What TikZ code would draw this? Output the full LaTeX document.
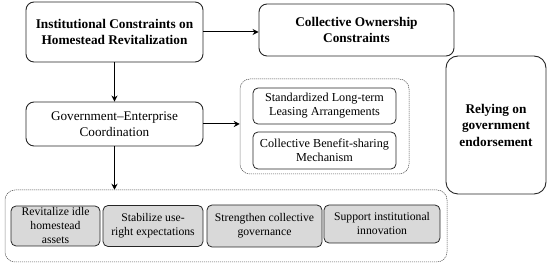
\documentclass[tikz,border=0pt]{standalone}
\usepackage{fontspec}
\setmainfont{Liberation Serif}
\usetikzlibrary{arrows.meta}
\begin{document}
\begin{tikzpicture}[x=1pt,y=1pt,
  solidbox/.style={draw=black!85, line width=0.9pt, rounded corners=8pt, align=center, inner sep=0pt},
  smallbox/.style={draw=black!85, line width=0.8pt, rounded corners=5pt, align=center, inner sep=0pt, font=\fontsize{12.2}{14}\selectfont},
  graybox/.style={smallbox, fill=black!15, font=\fontsize{11.7}{14}\selectfont},
  groupbox/.style={draw=black!70, line width=0.5pt, dash pattern=on 1.2pt off 0.8pt, rounded corners=10pt, inner sep=0pt},
  conn/.style={-{Stealth[length=6pt,width=6pt]}, line width=1pt},
  boldtxt/.style={font=\bfseries\fontsize{13.3}{16}\selectfont}
]
\useasboundingbox (0,0) rectangle (550,267);
\node[solidbox, boldtxt, minimum width=177, minimum height=60] (inst) at (114.5,235) {Institutional Constraints on\\Homestead Revitalization};
\node[solidbox, boldtxt, minimum width=195, minimum height=52] (own) at (356.5,237) {Collective Ownership\\Constraints};
\node[solidbox, minimum width=177, minimum height=44, font=\fontsize{13.2}{15.5}\selectfont] (gov) at (114.5,143) {Government--Enterprise\\Coordination};
\node[groupbox, minimum width=169, minimum height=95] (right) at (324.5,140.5) {};
\node[smallbox, minimum width=143, minimum height=36] (lease) at (324.5,161) {Standardized Long-term\\Leasing Arrangements};
\node[smallbox, minimum width=143, minimum height=37] (benefit) at (324.5,116.5) {Collective Benefit-sharing\\Mechanism};
\node[solidbox, boldtxt, rounded corners=12pt, minimum width=100, minimum height=138, font=\bfseries\fontsize{13.3}{16.5}\selectfont] (rely) at (496,142) {Relying on\\government\\endorsement};
\node[groupbox, minimum width=442, minimum height=72] (bottom) at (226,41) {};
\node[graybox, minimum width=89, minimum height=40] (b1) at (55.5,41) {Revitalize idle\\homestead\\assets};
\node[graybox, minimum width=100, minimum height=41] (b2) at (153,41) {Stabilize use-\\right expectations};
\node[graybox, minimum width=115, minimum height=42] (b3) at (264.5,41) {Strengthen collective\\governance};
\node[graybox, minimum width=116, minimum height=38] (b4) at (382,43) {Support institutional\\innovation};
\draw[conn] (inst.east) -- (inst.east -| own.west);
\draw[conn] (inst.south) -- (gov.north);
\draw[conn] (gov.east) -- (gov.east -| right.west);
\draw[conn] (gov.south) -- (bottom.north -| gov.south);
\end{tikzpicture}
\end{document}
